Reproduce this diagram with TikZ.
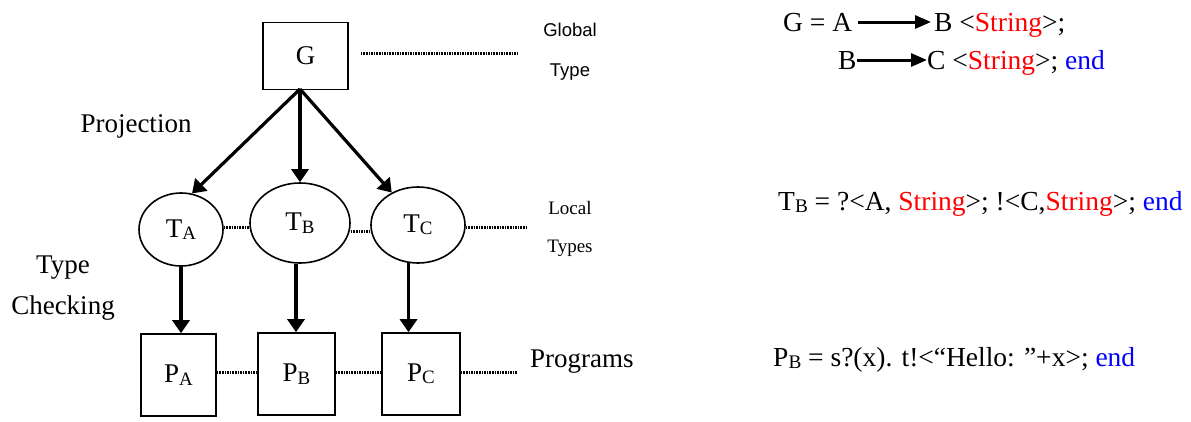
\documentclass[tikz,border=0pt]{standalone}
\usepackage{fontspec}
\setmainfont{Liberation Serif}
\newfontfamily\labelsans{Liberation Sans}
\usetikzlibrary{shapes.geometric,arrows.meta,calc}

\definecolor{kwred}{RGB}{255,0,0}
\definecolor{kwblue}{RGB}{0,0,255}

\tikzset{
  box/.style={draw, line width=1.6pt, inner sep=0pt, font=\fontsize{27}{30}\selectfont},
  local/.style={draw, ellipse, line width=1.6pt, inner sep=0pt, font=\fontsize{27}{30}\selectfont},
  arr/.style={line width=3.2pt, -{Triangle[length=13pt,width=17pt]}},
  codearr/.style={line width=3pt, -{Triangle[length=16pt,width=13pt]}},
  dots/.style={line width=3pt, dash pattern=on 1.6pt off 1pt},
  lbl/.style={inner sep=0pt, font=\fontsize{27}{30}\selectfont},
  side/.style={inner sep=0pt, font=\fontsize{19}{22}\selectfont},
  glob/.style={inner sep=0pt, font=\labelsans\fontsize{18.5}{20}\selectfont},
  code/.style={inner sep=0pt, anchor=base west, font=\fontsize{27.5}{30}\selectfont},
}
\newcommand{\str}{\textcolor{kwred}{String}}
\newcommand{\kend}{\textcolor{kwblue}{end}}
% small, slightly lowered index letter
\newcommand{\idx}[1]{\raisebox{-0.09em}{\scalebox{0.7}{#1}}}

\begin{document}
\begin{tikzpicture}[x=1pt, y=-1pt]
\useasboundingbox (0,0) rectangle (1191,421);

% global type
\node[box, minimum width=85pt, minimum height=67pt] (G) at (305.5,56) {G};
\coordinate (g0) at (300,89);

% local types
\node[local, minimum width=84pt, minimum height=73pt] (TA) at (181,229.5) {T\idx{A}};
\node[local, minimum width=100pt, minimum height=80pt] (TB) at (300,223) {T\idx{B}};
\node[local, minimum width=94pt, minimum height=76pt] (TC) at (418,225) {T\idx{C}};

% programs
\node[box, minimum width=75pt, minimum height=82pt] (PA) at (178.5,375) {P\idx{A}};
\node[box, minimum width=77pt, minimum height=82pt] (PB) at (296.5,374) {P\idx{B}};
\node[box, minimum width=78pt, minimum height=82pt] (PC) at (421,374) {P\idx{C}};

% projection arrows
\draw[arr] (g0) -- (TA.73);
\draw[arr] (g0) -- (TB.north -| g0);
\draw[arr] (g0) -- (TC.129);

% type-checking arrows
\draw[arr] (TA.south) -- (TA.south |- PA.north);
\draw[arr] ([xshift=-4pt]TB.south) -- ([xshift=-4pt]TB.south |- PB.north);
\draw[arr] (TC.256) -- (TC.256 |- PC.north);

% dotted links
\coordinate (gend) at (519,53);
\draw[dots] ([xshift=12pt]G.east |- gend) -- (gend);
\draw[dots] (TA.east |- 0,227) -- (TB.west |- 0,227);
\draw[dots] (TB.east |- 0,231) -- (TC.west |- 0,231);
\coordinate (tend) at (528,227);
\draw[dots] (TC.east |- tend) -- (tend);
\draw[dots] (PA.east |- 0,372) -- (PB.west |- 0,372);
\draw[dots] (PB.east |- 0,372) -- (PC.west |- 0,372);
\coordinate (pend) at (517,372);
\draw[dots] (PC.east |- pend) -- (pend);

% labels
\node[glob] (glab1) at (570,30) {Global};
\node[glob] (glab2) at (570,72) {Type};
\node[side] (llab1) at (570,208) {Local};
\node[side] (llab2) at (570,248) {Types};
\node[lbl, anchor=west] (plab) at (530,362) {Programs};
\node[lbl] (proj) at (136,126) {Projection};
\node[lbl] (tc1) at (63,268) {Type};
\node[lbl] (tc2) at (63,308) {Checking};

% example global type
\node[code] (g1a) at (783,31) {G = A};
\node[code] (g1b) at (934,31) {B <\str>;};
\draw[codearr] ([xshift=6pt]g1a.east |- 0,22) -- ([xshift=-3pt]g1b.west |- 0,22);
\node[code] (g2a) at (838,69) {B};
\node[code] (g2b) at (927,69) {C <\str>; \kend};
\draw[codearr] (g2a.east |- 0,60) -- (g2b.west |- 0,60);

% example local type
\node[code] (tbx) at (778,210) {T\idx{B} = ?<A, \str>; !<C,\str>; \kend};

% example program
\node[code] (pbx) at (773,366) {P\idx{B} = s?(x). t!<“Hello: ”+x>; \kend};
\end{tikzpicture}
\end{document}
